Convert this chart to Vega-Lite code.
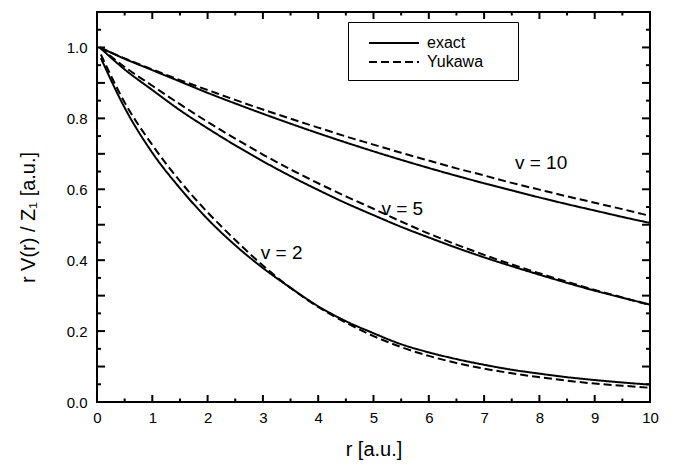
{
  "$schema": "https://vega.github.io/schema/vega-lite/v6.json",
  "width": 553,
  "height": 390,
  "autosize": {"type": "none"},
  "padding": {"left": 97, "top": 12, "right": 32, "bottom": 68},
  "background": "white",
  "config": {
    "font": "Liberation Sans",
    "view": {"stroke": "black", "strokeWidth": 2},
    "axis": {
      "domain": false,
      "grid": false,
      "ticks": false,
      "tickSize": 0,
      "labelColor": "black",
      "labelFont": "Liberation Sans",
      "labelFontSize": 15,
      "titleColor": "black",
      "titleFont": "Liberation Sans",
      "titleFontSize": 20,
      "titleFontWeight": "normal"
    }
  },
  "datasets": {
    "xmajor": [{"r": 0}, {"r": 1}, {"r": 2}, {"r": 3}, {"r": 4}, {"r": 5}, {"r": 6}, {"r": 7}, {"r": 8}, {"r": 9}, {"r": 10}],
    "xminor": [{"r": 0.5}, {"r": 1.5}, {"r": 2.5}, {"r": 3.5}, {"r": 4.5}, {"r": 5.5}, {"r": 6.5}, {"r": 7.5}, {"r": 8.5}, {"r": 9.5}],
    "ymajor": [{"val": 0}, {"val": 0.1}, {"val": 0.2}, {"val": 0.3}, {"val": 0.4}, {"val": 0.5}, {"val": 0.6}, {"val": 0.7}, {"val": 0.8}, {"val": 0.9}, {"val": 1.0}, {"val": 1.1}],
    "yminor": [{"val": 0.05}, {"val": 0.15}, {"val": 0.25}, {"val": 0.35}, {"val": 0.45}, {"val": 0.55}, {"val": 0.65}, {"val": 0.75}, {"val": 0.85}, {"val": 0.95}, {"val": 1.05}]
  },
  "layer": [
    {
      "data": {
        "values": [
          {"r": 0.05, "v": "10", "model": "exact", "val": 1.0},
          {"r": 0.5, "v": "10", "model": "exact", "val": 0.968},
          {"r": 1, "v": "10", "model": "exact", "val": 0.936},
          {"r": 1.5, "v": "10", "model": "exact", "val": 0.904},
          {"r": 2, "v": "10", "model": "exact", "val": 0.872},
          {"r": 2.5, "v": "10", "model": "exact", "val": 0.842},
          {"r": 3, "v": "10", "model": "exact", "val": 0.813},
          {"r": 3.5, "v": "10", "model": "exact", "val": 0.785},
          {"r": 4, "v": "10", "model": "exact", "val": 0.758},
          {"r": 4.5, "v": "10", "model": "exact", "val": 0.732},
          {"r": 5, "v": "10", "model": "exact", "val": 0.707},
          {"r": 5.5, "v": "10", "model": "exact", "val": 0.683},
          {"r": 6, "v": "10", "model": "exact", "val": 0.66},
          {"r": 6.5, "v": "10", "model": "exact", "val": 0.638},
          {"r": 7, "v": "10", "model": "exact", "val": 0.617},
          {"r": 7.5, "v": "10", "model": "exact", "val": 0.597},
          {"r": 8, "v": "10", "model": "exact", "val": 0.577},
          {"r": 8.5, "v": "10", "model": "exact", "val": 0.558},
          {"r": 9, "v": "10", "model": "exact", "val": 0.54},
          {"r": 9.5, "v": "10", "model": "exact", "val": 0.522},
          {"r": 10, "v": "10", "model": "exact", "val": 0.505},
          {"r": 0.05, "v": "10", "model": "Yukawa", "val": 1.0},
          {"r": 0.5, "v": "10", "model": "Yukawa", "val": 0.969},
          {"r": 1, "v": "10", "model": "Yukawa", "val": 0.938},
          {"r": 1.5, "v": "10", "model": "Yukawa", "val": 0.908},
          {"r": 2, "v": "10", "model": "Yukawa", "val": 0.88},
          {"r": 2.5, "v": "10", "model": "Yukawa", "val": 0.852},
          {"r": 3, "v": "10", "model": "Yukawa", "val": 0.825},
          {"r": 3.5, "v": "10", "model": "Yukawa", "val": 0.799},
          {"r": 4, "v": "10", "model": "Yukawa", "val": 0.774},
          {"r": 4.5, "v": "10", "model": "Yukawa", "val": 0.749},
          {"r": 5, "v": "10", "model": "Yukawa", "val": 0.726},
          {"r": 5.5, "v": "10", "model": "Yukawa", "val": 0.703},
          {"r": 6, "v": "10", "model": "Yukawa", "val": 0.681},
          {"r": 6.5, "v": "10", "model": "Yukawa", "val": 0.659},
          {"r": 7, "v": "10", "model": "Yukawa", "val": 0.639},
          {"r": 7.5, "v": "10", "model": "Yukawa", "val": 0.618},
          {"r": 8, "v": "10", "model": "Yukawa", "val": 0.599},
          {"r": 8.5, "v": "10", "model": "Yukawa", "val": 0.58},
          {"r": 9, "v": "10", "model": "Yukawa", "val": 0.562},
          {"r": 9.5, "v": "10", "model": "Yukawa", "val": 0.544},
          {"r": 10, "v": "10", "model": "Yukawa", "val": 0.525},
          {"r": 0.05, "v": "5", "model": "exact", "val": 1.0},
          {"r": 0.5, "v": "5", "model": "exact", "val": 0.938},
          {"r": 1, "v": "5", "model": "exact", "val": 0.88},
          {"r": 1.5, "v": "5", "model": "exact", "val": 0.823},
          {"r": 2, "v": "5", "model": "exact", "val": 0.772},
          {"r": 2.5, "v": "5", "model": "exact", "val": 0.724},
          {"r": 3, "v": "5", "model": "exact", "val": 0.679},
          {"r": 3.5, "v": "5", "model": "exact", "val": 0.637},
          {"r": 4, "v": "5", "model": "exact", "val": 0.598},
          {"r": 4.5, "v": "5", "model": "exact", "val": 0.561},
          {"r": 5, "v": "5", "model": "exact", "val": 0.527},
          {"r": 5.5, "v": "5", "model": "exact", "val": 0.494},
          {"r": 6, "v": "5", "model": "exact", "val": 0.464},
          {"r": 6.5, "v": "5", "model": "exact", "val": 0.435},
          {"r": 7, "v": "5", "model": "exact", "val": 0.408},
          {"r": 7.5, "v": "5", "model": "exact", "val": 0.383},
          {"r": 8, "v": "5", "model": "exact", "val": 0.359},
          {"r": 8.5, "v": "5", "model": "exact", "val": 0.336},
          {"r": 9, "v": "5", "model": "exact", "val": 0.314},
          {"r": 9.5, "v": "5", "model": "exact", "val": 0.294},
          {"r": 10, "v": "5", "model": "exact", "val": 0.275},
          {"r": 0.05, "v": "5", "model": "Yukawa", "val": 1.0},
          {"r": 0.5, "v": "5", "model": "Yukawa", "val": 0.945},
          {"r": 1, "v": "5", "model": "Yukawa", "val": 0.892},
          {"r": 1.5, "v": "5", "model": "Yukawa", "val": 0.84},
          {"r": 2, "v": "5", "model": "Yukawa", "val": 0.79},
          {"r": 2.5, "v": "5", "model": "Yukawa", "val": 0.743},
          {"r": 3, "v": "5", "model": "Yukawa", "val": 0.698},
          {"r": 3.5, "v": "5", "model": "Yukawa", "val": 0.656},
          {"r": 4, "v": "5", "model": "Yukawa", "val": 0.617},
          {"r": 4.5, "v": "5", "model": "Yukawa", "val": 0.58},
          {"r": 5, "v": "5", "model": "Yukawa", "val": 0.545},
          {"r": 5.5, "v": "5", "model": "Yukawa", "val": 0.509},
          {"r": 6, "v": "5", "model": "Yukawa", "val": 0.475},
          {"r": 6.5, "v": "5", "model": "Yukawa", "val": 0.444},
          {"r": 7, "v": "5", "model": "Yukawa", "val": 0.415},
          {"r": 7.5, "v": "5", "model": "Yukawa", "val": 0.388},
          {"r": 8, "v": "5", "model": "Yukawa", "val": 0.363},
          {"r": 8.5, "v": "5", "model": "Yukawa", "val": 0.339},
          {"r": 9, "v": "5", "model": "Yukawa", "val": 0.316},
          {"r": 9.5, "v": "5", "model": "Yukawa", "val": 0.295},
          {"r": 10, "v": "5", "model": "Yukawa", "val": 0.273},
          {"r": 0.07, "v": "2", "model": "exact", "val": 0.97},
          {"r": 0.5, "v": "2", "model": "exact", "val": 0.83},
          {"r": 1, "v": "2", "model": "exact", "val": 0.703},
          {"r": 1.5, "v": "2", "model": "exact", "val": 0.603},
          {"r": 2, "v": "2", "model": "exact", "val": 0.516},
          {"r": 2.5, "v": "2", "model": "exact", "val": 0.442},
          {"r": 3, "v": "2", "model": "exact", "val": 0.378},
          {"r": 3.5, "v": "2", "model": "exact", "val": 0.322},
          {"r": 4, "v": "2", "model": "exact", "val": 0.27},
          {"r": 4.5, "v": "2", "model": "exact", "val": 0.228},
          {"r": 5, "v": "2", "model": "exact", "val": 0.194},
          {"r": 5.5, "v": "2", "model": "exact", "val": 0.163},
          {"r": 6, "v": "2", "model": "exact", "val": 0.14},
          {"r": 6.5, "v": "2", "model": "exact", "val": 0.121},
          {"r": 7, "v": "2", "model": "exact", "val": 0.105},
          {"r": 7.5, "v": "2", "model": "exact", "val": 0.091},
          {"r": 8, "v": "2", "model": "exact", "val": 0.08},
          {"r": 8.5, "v": "2", "model": "exact", "val": 0.07},
          {"r": 9, "v": "2", "model": "exact", "val": 0.062},
          {"r": 9.5, "v": "2", "model": "exact", "val": 0.055},
          {"r": 10, "v": "2", "model": "exact", "val": 0.049},
          {"r": 0.07, "v": "2", "model": "Yukawa", "val": 0.98},
          {"r": 0.5, "v": "2", "model": "Yukawa", "val": 0.845},
          {"r": 1, "v": "2", "model": "Yukawa", "val": 0.725},
          {"r": 1.5, "v": "2", "model": "Yukawa", "val": 0.623},
          {"r": 2, "v": "2", "model": "Yukawa", "val": 0.535},
          {"r": 2.5, "v": "2", "model": "Yukawa", "val": 0.457},
          {"r": 3, "v": "2", "model": "Yukawa", "val": 0.385},
          {"r": 3.5, "v": "2", "model": "Yukawa", "val": 0.322},
          {"r": 4, "v": "2", "model": "Yukawa", "val": 0.268},
          {"r": 4.5, "v": "2", "model": "Yukawa", "val": 0.224},
          {"r": 5, "v": "2", "model": "Yukawa", "val": 0.186},
          {"r": 5.5, "v": "2", "model": "Yukawa", "val": 0.155},
          {"r": 6, "v": "2", "model": "Yukawa", "val": 0.13},
          {"r": 6.5, "v": "2", "model": "Yukawa", "val": 0.11},
          {"r": 7, "v": "2", "model": "Yukawa", "val": 0.094},
          {"r": 7.5, "v": "2", "model": "Yukawa", "val": 0.081},
          {"r": 8, "v": "2", "model": "Yukawa", "val": 0.07},
          {"r": 8.5, "v": "2", "model": "Yukawa", "val": 0.06},
          {"r": 9, "v": "2", "model": "Yukawa", "val": 0.052},
          {"r": 9.5, "v": "2", "model": "Yukawa", "val": 0.046},
          {"r": 10, "v": "2", "model": "Yukawa", "val": 0.04}
        ]
      },
      "mark": {"type": "line", "interpolate": "monotone", "strokeWidth": 2, "color": "black", "clip": true},
      "encoding": {
        "x": {
          "field": "r", "type": "quantitative",
          "scale": {"domain": [0, 10], "nice": false, "zero": false},
          "axis": {
            "orient": "bottom",
            "values": [0, 1, 2, 3, 4, 5, 6, 7, 8, 9, 10],
            "format": "d",
            "labelPadding": 8,
            "labelBaseline": "top",
            "labelFlush": false,
            "title": "r [a.u.]",
            "titleBaseline": "alphabetic",
            "titleY": 53
          }
        },
        "y": {
          "field": "val", "type": "quantitative",
          "scale": {"domain": [0, 1.1], "nice": false, "zero": false},
          "axis": {
            "orient": "left",
            "values": [0, 0.1, 0.2, 0.3, 0.4, 0.5, 0.6, 0.7, 0.8, 0.9, 1, 1.1],
            "format": ".1f",
            "labelPadding": 10,
            "labelFlush": false,
            "title": "r V(r) / Z₁  [a.u.]",
            "titleAngle": 270,
            "titleAlign": "center",
            "titleBaseline": "alphabetic",
            "titleX": -63,
            "titleY": 205
          }
        },
        "detail": {"field": "v", "type": "nominal"},
        "strokeDash": {
          "field": "model", "type": "nominal",
          "scale": {"domain": ["exact", "Yukawa"], "range": [[1, 0], [8, 4]]},
          "legend": {
            "title": null,
            "orient": "none",
            "legendX": 251,
            "legendY": 10,
            "strokeColor": "black",
            "padding": 10,
            "symbolType": "M-2.5,0H2.5",
            "symbolSize": 400,
            "symbolStrokeWidth": 2,
            "symbolStrokeColor": "black",
            "symbolOffset": 25,
            "labelOffset": 22,
            "labelFont": "Liberation Sans",
            "labelFontSize": 16,
            "labelColor": "black",
            "rowPadding": 0,
            "labelExpr": "datum.label + '\u2800\u2800'"
          }
        }
      }
    },
    {
      "data": {
        "values": [
          {"r": 8.03, "val": 0.657, "label": "v = 10"},
          {"r": 5.52, "val": 0.527, "label": "v = 5"},
          {"r": 3.34, "val": 0.403, "label": "v = 2"}
        ]
      },
      "mark": {"type": "text", "fontSize": 19, "align": "center", "baseline": "alphabetic", "color": "black", "font": "Liberation Sans"},
      "encoding": {
        "x": {"field": "r", "type": "quantitative"},
        "y": {"field": "val", "type": "quantitative"},
        "text": {"field": "label"}
      }
    },
    {
      "data": {"name": "xmajor"},
      "mark": {"type": "tick", "orient": "vertical", "size": 14, "thickness": 2, "color": "black", "opacity": 1, "clip": true},
      "encoding": {
        "x": {"field": "r", "type": "quantitative"},
        "y": {"datum": 0, "type": "quantitative"}
      }
    },
    {
      "data": {"name": "xmajor"},
      "mark": {"type": "tick", "orient": "vertical", "size": 14, "thickness": 2, "color": "black", "opacity": 1, "clip": true},
      "encoding": {
        "x": {"field": "r", "type": "quantitative"},
        "y": {"datum": 1.1, "type": "quantitative"}
      }
    },
    {
      "data": {"name": "xminor"},
      "mark": {"type": "tick", "orient": "vertical", "size": 7, "thickness": 2, "color": "black", "opacity": 1, "clip": true},
      "encoding": {
        "x": {"field": "r", "type": "quantitative"},
        "y": {"datum": 0, "type": "quantitative"}
      }
    },
    {
      "data": {"name": "xminor"},
      "mark": {"type": "tick", "orient": "vertical", "size": 7, "thickness": 2, "color": "black", "opacity": 1, "clip": true},
      "encoding": {
        "x": {"field": "r", "type": "quantitative"},
        "y": {"datum": 1.1, "type": "quantitative"}
      }
    },
    {
      "data": {"name": "ymajor"},
      "mark": {"type": "tick", "orient": "horizontal", "size": 16, "thickness": 2, "color": "black", "opacity": 1, "clip": true},
      "encoding": {
        "y": {"field": "val", "type": "quantitative"},
        "x": {"datum": 0, "type": "quantitative"}
      }
    },
    {
      "data": {"name": "ymajor"},
      "mark": {"type": "tick", "orient": "horizontal", "size": 16, "thickness": 2, "color": "black", "opacity": 1, "clip": true},
      "encoding": {
        "y": {"field": "val", "type": "quantitative"},
        "x": {"datum": 10, "type": "quantitative"}
      }
    },
    {
      "data": {"name": "yminor"},
      "mark": {"type": "tick", "orient": "horizontal", "size": 8, "thickness": 2, "color": "black", "opacity": 1, "clip": true},
      "encoding": {
        "y": {"field": "val", "type": "quantitative"},
        "x": {"datum": 0, "type": "quantitative"}
      }
    },
    {
      "data": {"name": "yminor"},
      "mark": {"type": "tick", "orient": "horizontal", "size": 8, "thickness": 2, "color": "black", "opacity": 1, "clip": true},
      "encoding": {
        "y": {"field": "val", "type": "quantitative"},
        "x": {"datum": 10, "type": "quantitative"}
      }
    }
  ]
}
